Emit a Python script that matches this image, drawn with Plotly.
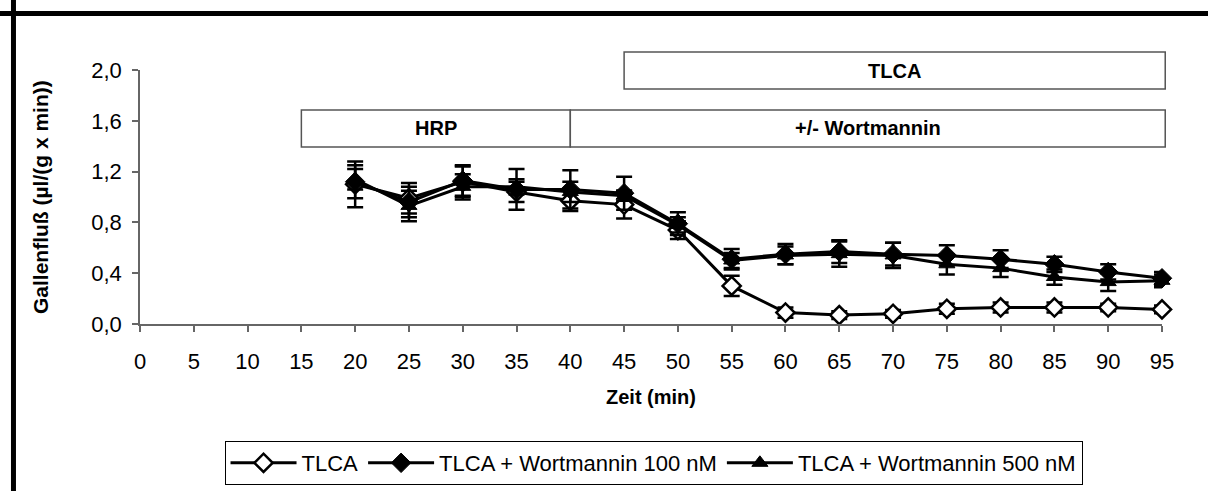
import plotly.graph_objects as go

# ---------------- data ----------------
time_min = [20, 25, 30, 35, 40, 45, 50, 55, 60, 65, 70, 75, 80, 85, 90, 95]

tlca = [1.10, 0.99, 1.12, 1.04, 0.97, 0.94, 0.74, 0.30, 0.09, 0.07, 0.08, 0.12, 0.13, 0.13, 0.13, 0.115]
tlca_err = [0.18, 0.12, 0.12, 0.08, 0.08, 0.11, 0.07, 0.08, 0.04, 0.03, 0.03, 0.04, 0.04, 0.04, 0.03, 0.03]

wort100 = [1.12, 0.96, 1.13, 1.06, 1.06, 1.03, 0.79, 0.51, 0.55, 0.57, 0.55, 0.54, 0.51, 0.47, 0.41, 0.36]
wort100_err = [0.13, 0.12, 0.12, 0.16, 0.15, 0.13, 0.09, 0.08, 0.08, 0.09, 0.09, 0.08, 0.07, 0.06, 0.06, 0.05]

wort500 = [1.14, 0.93, 1.08, 1.08, 1.04, 1.01, 0.78, 0.50, 0.54, 0.55, 0.54, 0.47, 0.44, 0.37, 0.33, 0.34]
wort500_err = [0.08, 0.12, 0.10, 0.06, 0.08, 0.04, 0.06, 0.06, 0.07, 0.10, 0.10, 0.08, 0.07, 0.06, 0.07, 0.05]

series_names = ["TLCA", "TLCA + Wortmannin 100 nM", "TLCA + Wortmannin 500 nM"]

x_ticks = list(range(0, 100, 5))
y_ticks = [0.0, 0.4, 0.8, 1.2, 1.6, 2.0]

# phase boxes: label, start, end (min), lower, upper (y units)
phase_labels = ["HRP", "+/- Wortmannin", "TLCA"]
phase_start = [15, 40, 45]
phase_end = [40, 95.3, 95.3]
phase_low = [1.394, 1.394, 1.850]
phase_high = [1.685, 1.685, 2.142]

X_RANGE = [0, 95]
Y_RANGE = [0, 2.0]

FONT = "Liberation Sans, Arial, sans-serif"


def xp(v):
    return (v - X_RANGE[0]) / (X_RANGE[1] - X_RANGE[0])


def yp(v):
    return (v - Y_RANGE[0]) / (Y_RANGE[1] - Y_RANGE[0])


fig = go.Figure()

styles = [
    dict(symbol="diamond", size=14, color="white", line=dict(color="black", width=2.5)),
    dict(symbol="diamond", size=15, color="black", line=dict(color="black", width=1)),
    dict(symbol="triangle-up", size=14, color="black", line=dict(color="black", width=1)),
]
values = [tlca, wort100, wort500]
errors = [tlca_err, wort100_err, wort500_err]

for name, vals, errs, mk in zip(series_names, values, errors, styles):
    fig.add_trace(go.Scatter(
        x=time_min, y=vals, name=name, mode="lines+markers",
        line=dict(color="black", width=3),
        marker=mk,
        error_y=dict(type="data", array=errs, visible=True, color="black",
                     thickness=2.5, width=8),
        cliponaxis=False,
    ))

shapes = []
annotations = []
for lab, s, e, lo, hi in zip(phase_labels, phase_start, phase_end, phase_low, phase_high):
    shapes.append(dict(type="rect", xref="paper", yref="paper",
                       x0=xp(s), x1=xp(e), y0=yp(lo), y1=yp(hi),
                       line=dict(color="#555555", width=1.5), fillcolor="white", layer="below"))
    annotations.append(dict(xref="paper", yref="paper", x=xp((s + e) / 2), y=yp((lo + hi) / 2),
                            text="<b>" + lab + "</b>", showarrow=False,
                            font=dict(family=FONT, size=20, color="black"),
                            xanchor="center", yanchor="middle"))

# outer frame (top and left edges)
shapes.append(dict(type="line", xref="paper", yref="paper", x0=-0.2, x1=1.2, y0=1.2224, y1=1.2224,
                   line=dict(color="black", width=5)))
shapes.append(dict(type="line", xref="paper", yref="paper", x0=-0.1238, x1=-0.1238, y0=-1.5, y1=1.3,
                   line=dict(color="black", width=5)))

annotations.append(dict(xref="paper", yref="paper", x=0.5, y=-0.287, text="<b>Zeit (min)</b>",
                        showarrow=False, font=dict(family=FONT, size=20, color="black"),
                        xanchor="center", yanchor="middle"))
annotations.append(dict(xref="paper", yref="paper", x=-0.0978, y=0.5,
                        text="<b>Gallenfluß (µl/(g x min))</b>", textangle=-90,
                        showarrow=False, font=dict(family=FONT, size=21, color="black"),
                        xanchor="center", yanchor="middle"))

fig.update_layout(
    width=1208, height=491,
    margin=dict(l=140, r=46, t=70, b=167),
    paper_bgcolor="white", plot_bgcolor="white",
    separators=", ",
    font=dict(family=FONT, size=22, color="black"),
    showlegend=True,
    legend=dict(orientation="h", xref="container", yref="container",
                x=0.541, xanchor="center", y=0.1018, yanchor="top",
                bordercolor="black", borderwidth=1, bgcolor="white",
                font=dict(family=FONT, size=22, color="black"),
                itemwidth=66, tracegroupgap=0),
    shapes=shapes,
    annotations=annotations,
)

fig.update_xaxes(range=X_RANGE, tickvals=x_ticks, ticktext=[str(t) for t in x_ticks],
                 showgrid=False, zeroline=False, showline=True, linecolor="#666666", linewidth=1.5,
                 ticks="outside", ticklen=6, tickwidth=1.5, tickcolor="#666666",
                 ticklabelstandoff=11, tickfont=dict(size=22))
fig.update_yaxes(range=Y_RANGE, tickvals=y_ticks, tickformat=".1f",
                 showgrid=False, zeroline=False, showline=True, linecolor="#666666", linewidth=1.5,
                 ticks="outside", ticklen=6, tickwidth=1.5, tickcolor="#666666",
                 ticklabelstandoff=6, tickfont=dict(size=22))

fig.write_html("out.html", config={"displayModeBar": False},
               post_script="document.body.style.margin='0';")
